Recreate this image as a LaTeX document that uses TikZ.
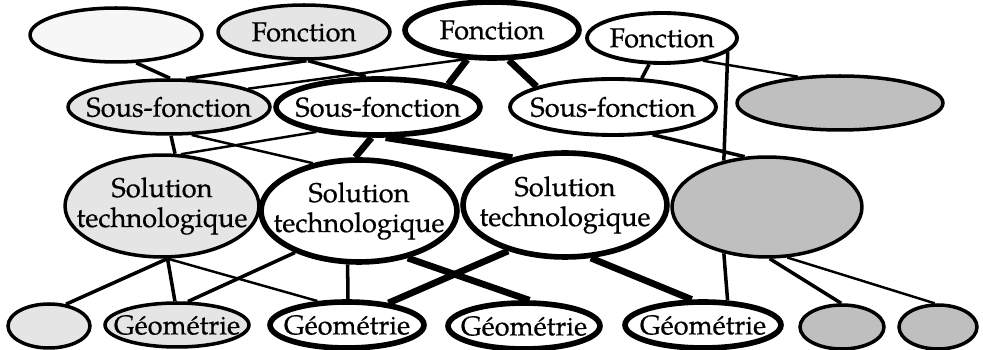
\documentclass[tikz,border=0pt]{standalone}
\usepackage{fontspec}
\setmainfont{TeX Gyre Pagella}[FakeBold=0.5]
\usepackage{tikz}
\usetikzlibrary{shapes.geometric}
\tikzset{
	% ellipse kinds
	plainnode/.style={ellipse, draw=black, line width=2.2pt, fill=white, inner sep=0pt},
	boldnode/.style ={ellipse, draw=black, line width=3.2pt, fill=white, inner sep=0pt},
	lightnode/.style={ellipse, draw=black, line width=2pt, fill=gray!20, inner sep=0pt},
	darknode/.style ={ellipse, draw=black, line width=2pt, fill=gray!50, inner sep=0pt},
	dims/.style 2 args={minimum width=#1*0.04cm, minimum height=#2*0.04cm},
	txt/.style={label={center:#1}},
	every label/.append style={font=\fontsize{15.5}{17}\selectfont, align=center, inner sep=0pt},
	% connectors
	thinlink/.style ={line width=1.4pt},
	medlink/.style  ={line width=2pt},
	thicklink/.style={line width=3.8pt},
}
\begin{document}
\begin{tikzpicture}[x=0.02cm, y=-0.02cm]
	\useasboundingbox (0,0) rectangle (983,350);
	% functions
	\node[lightnode, fill=gray!6, dims={86}{27}] (F0) at (116,35) {};
	\node[lightnode, dims={86}{27}, txt=Fonction] (F1) at (304,32) {};
	\node[boldnode, dims={87}{28}, txt=Fonction] (F2) at (492,30) {};
	\node[plainnode, dims={75}{25}, txt=Fonction] (F3) at (662,38) {};
	% sub-functions
	\node[lightnode, dims={101}{27}, txt=Sous-fonction] (S0) at (169,107) {};
	\node[boldnode, dims={102}{28}, txt=Sous-fonction] (S1) at (378,107) {};
	\node[plainnode, dims={103}{28}, txt=Sous-fonction] (S2) at (613,107) {};
	\node[darknode, dims={103}{27}] (S3) at (840,103) {};
	% solutions
	\node[lightnode, dims={97}{51}, txt=Solution\\technologique] (T0) at (162,206) {};
	\node[boldnode, dims={98}{51}, txt=Solution\\technologique] (T1) at (359,211) {};
	\node[boldnode, dims={102}{52}, txt=Solution\\technologique] (T2) at (565,205) {};
	\node[darknode, dims={95}{50}] (T3) at (767,207) {};
	% geometries
	\node[lightnode, dims={41}{22}] (G0) at (49,326) {};
	\node[lightnode, dims={72}{22}, txt=Géométrie] (G1) at (177,325) {};
	\node[boldnode, dims={77}{23}, txt=Géométrie] (G2) at (347,325) {};
	\node[boldnode, dims={76}{23}, txt=Géométrie] (G3) at (524,326) {};
	\node[boldnode, dims={78}{23}, txt=Géométrie] (G4) at (703,325) {};
	\node[darknode, dims={42}{22}] (G5) at (842,327) {};
	\node[darknode, dims={39}{22}] (G6) at (938,327) {};

	\foreach \a/\b in {F2.-133/S0.13, F3.-29.5/S3.148, S0.-51.5/T1.134, S1.-158/T0.70, T0.-84/G2.141, T3.-68/G6.98}
		\draw[thinlink] (\a) -- (\b);
	\foreach \a/\b in {F0.-54/S0.88, F1.-85/S0.59, F1.-82/S1.112, F3.-116/S2.45, F3.-12/T3.133, S0.-86/T0.76, S2.-35/T3.114, T0.-84/G0.52, T0.-84/G1.95, T1.-147/G1.65, T1.-102/G2.88, T3.-133/G4.45, T3.-87/G5.92}
		\draw[medlink] (\a) -- (\b);
	\foreach \a/\b in {F2.-130/S1.18, F2.-61/S2.165, S1.-102/T1.94, S1.-76/T2.138, T1.-44/G3.78, T2.-141/G2.28, T2.-64/G4.114}
		\draw[thicklink] (\a) -- (\b);
\end{tikzpicture}
\end{document}
